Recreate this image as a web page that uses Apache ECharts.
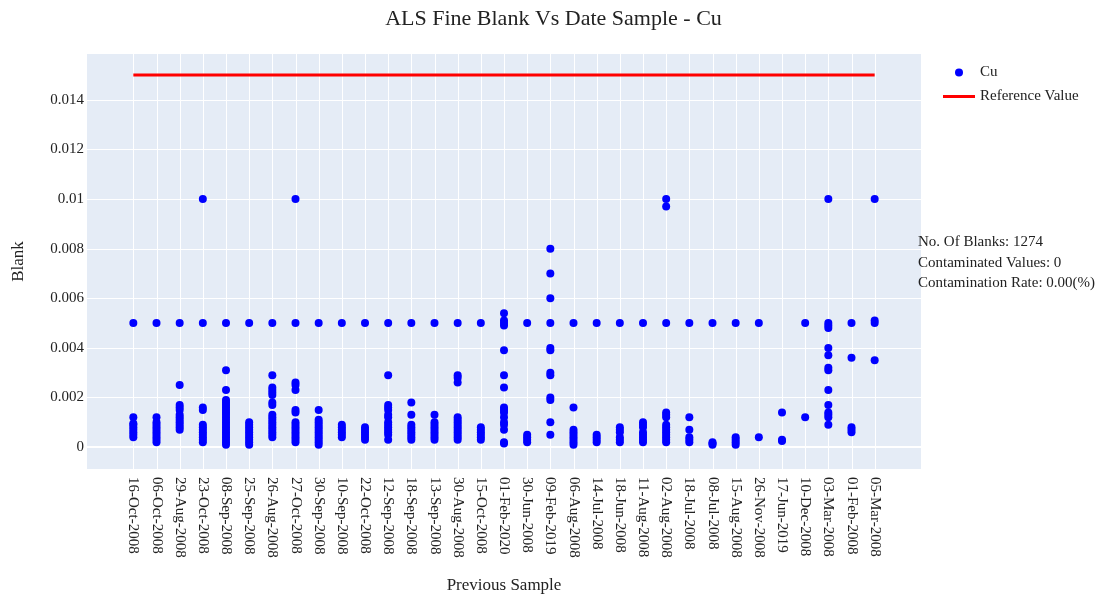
<!DOCTYPE html>
<html>
<head>
<meta charset="utf-8">
<script src="https://cdn.jsdelivr.net/npm/echarts@6/dist/echarts.min.js"></script>
<style>
  html, body { margin: 0; padding: 0; background: #ffffff; }
  #chart { width: 1107px; height: 599px; }
</style>
</head>
<body>
<div id="chart"></div>
<script>
// Previous-sample dates (x categories)
const sampleDates = [
  '16-Oct-2008', '06-Oct-2008', '29-Aug-2008', '23-Oct-2008', '08-Sep-2008',
  '25-Sep-2008', '26-Aug-2008', '27-Oct-2008', '30-Sep-2008', '10-Sep-2008',
  '22-Oct-2008', '12-Sep-2008', '18-Sep-2008', '13-Sep-2008', '30-Aug-2008',
  '15-Oct-2008', '01-Feb-2020', '30-Jun-2008', '09-Feb-2019', '06-Aug-2008',
  '14-Jul-2008', '18-Jun-2008', '11-Aug-2008', '02-Aug-2008', '18-Jul-2008',
  '08-Jul-2008', '15-Aug-2008', '26-Nov-2008', '17-Jun-2019', '10-Dec-2008',
  '03-Mar-2008', '01-Feb-2008', '05-Mar-2008'
];

// Cu fine blank results grouped by previous-sample date (same order as sampleDates)
const cuBlanks = [
  [0.005, 0.0012, 0.00095, 0.0009, 0.0008, 0.0007, 0.0006, 0.0005, 0.0004],
  [0.005, 0.0012, 0.001, 0.0009, 0.0008, 0.0007, 0.0006, 0.0005, 0.0004, 0.0003, 0.0002],
  [0.005, 0.0025, 0.0017, 0.0016, 0.0015, 0.0013, 0.0012, 0.0011, 0.001, 0.0009, 0.0008, 0.0007],
  [0.01, 0.005, 0.0016, 0.0015, 0.0009, 0.0008, 0.0007, 0.0006, 0.0005, 0.0004, 0.0003, 0.0002],
  [0.005, 0.0031, 0.0023, 0.0019, 0.0018, 0.0017, 0.0016, 0.0015, 0.0014, 0.0013, 0.0012, 0.0011,
   0.001, 0.0009, 0.0008, 0.0007, 0.0006, 0.0005, 0.0004, 0.0003, 0.0002, 0.0001],
  [0.005, 0.001, 0.0009, 0.0008, 0.0007, 0.0006, 0.0005, 0.0004, 0.0003, 0.0002, 0.0001],
  [0.005, 0.0029, 0.0024, 0.0023, 0.0022, 0.0021, 0.0018, 0.0017, 0.0013, 0.0012, 0.0011, 0.001,
   0.0009, 0.0008, 0.0007, 0.0006, 0.0005, 0.0004],
  [0.01, 0.005, 0.0026, 0.0025, 0.0023, 0.0015, 0.0014, 0.001, 0.0009, 0.0008, 0.0007, 0.0006,
   0.0005, 0.0004, 0.0003, 0.0002],
  [0.005, 0.0015, 0.0011, 0.001, 0.0009, 0.0008, 0.0007, 0.0006, 0.0005, 0.0004, 0.0003, 0.0002, 0.0001],
  [0.005, 0.0009, 0.0008, 0.0007, 0.0006, 0.0005, 0.0004],
  [0.005, 0.0008, 0.0007, 0.0006, 0.0005, 0.0004, 0.0003],
  [0.005, 0.0029, 0.0017, 0.0016, 0.0015, 0.0013, 0.0012, 0.001, 0.0009, 0.0008, 0.0007, 0.0006, 0.0005, 0.0003],
  [0.005, 0.0018, 0.0013, 0.0009, 0.0008, 0.0007, 0.0006, 0.0005, 0.0004, 0.0003],
  [0.005, 0.0013, 0.001, 0.0009, 0.0008, 0.0007, 0.0006, 0.0005, 0.0004, 0.0003],
  [0.005, 0.0029, 0.0028, 0.0026, 0.0012, 0.0011, 0.001, 0.0009, 0.0008, 0.0007, 0.0006, 0.0005, 0.0004, 0.0003],
  [0.005, 0.0008, 0.0007, 0.0006, 0.0005, 0.0004, 0.0003],
  [0.0054, 0.0051, 0.005, 0.0049, 0.0039, 0.0029, 0.0024, 0.0016, 0.0015, 0.0014, 0.0012, 0.001,
   0.0009, 0.0007, 0.0002, 0.00015],
  [0.005, 0.0005, 0.0004, 0.0003, 0.0002],
  [0.008, 0.007, 0.006, 0.005, 0.004, 0.0039, 0.003, 0.0029, 0.002, 0.0019, 0.001, 0.0005],
  [0.005, 0.0016, 0.0007, 0.0006, 0.0005, 0.0004, 0.0003, 0.0002, 0.0001],
  [0.005, 0.0005, 0.0004, 0.0003, 0.0002],
  [0.005, 0.0008, 0.0007, 0.0006, 0.0004, 0.0003, 0.0002],
  [0.005, 0.001, 0.0009, 0.0008, 0.0006, 0.0005, 0.0004, 0.0003, 0.0002],
  [0.01, 0.0097, 0.005, 0.0014, 0.0013, 0.0012, 0.0009, 0.0008, 0.0007, 0.0006, 0.0005, 0.0004, 0.0003, 0.0002],
  [0.005, 0.0012, 0.0007, 0.0004, 0.0003, 0.0002],
  [0.005, 0.0002, 0.00015, 0.0001],
  [0.005, 0.0004, 0.0003, 0.0002, 0.0001],
  [0.005, 0.0004],
  [0.0014, 0.0003, 0.00025],
  [0.005, 0.0012],
  [0.01, 0.005, 0.0049, 0.0048, 0.004, 0.0037, 0.0032, 0.0031, 0.0023, 0.0017, 0.0014, 0.0013, 0.0012, 0.0009],
  [0.005, 0.0036, 0.0008, 0.0007, 0.0006],
  [0.01, 0.0051, 0.005, 0.0035]
];

// Cu reference (contamination) value
const referenceValue = 0.015;

// Y tick values
const yTicks = [0, 0.002, 0.004, 0.006, 0.008, 0.01, 0.012, 0.014];

// Summary lines shown at the right of the plot
const summaryLines = [
  'No. Of Blanks: 1274',
  'Contaminated Values: 0',
  'Contamination Rate: 0.00(%)'
];

const FONT = "'Liberation Serif', 'Times New Roman', serif";
const TEXT = '#222222';

const scatterData = [];
cuBlanks.forEach((vals, i) => vals.forEach(v => scatterData.push([i, v])));

const lastIdx = sampleDates.length - 1;
const refData = [[0, referenceValue], [lastIdx, referenceValue]];

// Horizontal grid lines with their tick labels, placed through the axis scales
const hGridData = yTicks.map(t => [0, t]);
// Vertical grid lines, one per date category
const vGridData = sampleDates.map((d, i) => [i, 0]);

function renderHGrid(params, api) {
  const cs = params.coordSys;
  const t = api.value(1);
  const y = Math.round(api.coord([0, t])[1]) + (t === 0 ? 0 : 0.5);
  return {
    type: 'group',
    children: [
      {
        type: 'line',
        shape: { x1: cs.x, y1: y, x2: cs.x + cs.width, y2: y },
        style: { stroke: '#ffffff', lineWidth: t === 0 ? 2 : 1 }
      },
      {
        type: 'text',
        x: cs.x - 3,
        y: y,
        style: {
          text: String(+t.toFixed(3)),
          align: 'right',
          verticalAlign: 'middle',
          font: '15px ' + FONT,
          fill: TEXT
        }
      }
    ]
  };
}

function renderVGrid(params, api) {
  const cs = params.coordSys;
  const x = Math.round(api.coord([api.value(0), 0])[0]) + 0.5;
  return {
    type: 'line',
    shape: { x1: x, y1: cs.y, x2: x, y2: cs.y + cs.height },
    style: { stroke: '#ffffff', lineWidth: 1 }
  };
}

const chart = echarts.init(document.getElementById('chart'), null, { renderer: 'canvas' });

chart.setOption({
  animation: false,
  backgroundColor: '#ffffff',
  textStyle: { fontFamily: FONT, color: TEXT },
  title: {
    text: 'ALS Fine Blank Vs Date Sample - Cu',
    left: 'center',
    top: 3,
    textStyle: { fontFamily: FONT, fontSize: 22, fontWeight: 'normal', color: TEXT }
  },
  legend: {
    orient: 'vertical',
    left: 943,
    top: 65,
    padding: 0,
    itemWidth: 32,
    itemHeight: 8,
    itemGap: 9,
    textStyle: { fontFamily: FONT, fontSize: 15, color: TEXT },
    data: [
      { name: 'Cu', icon: 'circle' },
      { name: 'Reference Value', icon: 'path://M0,0 L32,0 L32,3 L0,3 Z' }
    ]
  },
  grid: {
    left: 87,
    right: 186,
    top: 54,
    bottom: 128,
    show: true,
    backgroundColor: '#E5ECF6',
    borderWidth: 0
  },
  xAxis: {
    type: 'value',
    min: -2,
    max: 34,
    interval: 1,
    name: 'Previous Sample',
    nameLocation: 'middle',
    nameGap: 108,
    nameTextStyle: { fontFamily: FONT, fontSize: 17, color: TEXT },
    axisLine: { show: false },
    axisTick: { show: false },
    splitLine: { show: false },
    axisLabel: {
      rotate: -90,
      margin: 8,
      fontFamily: FONT,
      fontSize: 15,
      color: TEXT,
      formatter: v => (Number.isInteger(v) && v >= 0 && v <= lastIdx) ? sampleDates[v] : ''
    }
  },
  yAxis: {
    type: 'value',
    min: -0.000882,
    max: 0.015845,
    name: 'Blank',
    nameLocation: 'middle',
    nameGap: 60,
    nameTextStyle: { fontFamily: FONT, fontSize: 17, color: TEXT },
    axisLine: { show: false },
    axisTick: { show: false },
    axisLabel: { show: false },
    splitLine: { show: false }
  },
  graphic: [{
    type: 'text',
    left: 918,
    top: 232,
    style: {
      text: summaryLines.join('\n'),
      font: '15px ' + FONT,
      fill: TEXT,
      lineHeight: 20.5
    }
  }],
  series: [
    {
      name: 'hgrid',
      type: 'custom',
      data: hGridData,
      renderItem: renderHGrid,
      silent: true,
      clip: false,
      z: 1
    },
    {
      name: 'vgrid',
      type: 'custom',
      data: vGridData,
      renderItem: renderVGrid,
      silent: true,
      clip: false,
      z: 1
    },
    {
      name: 'Cu',
      type: 'scatter',
      data: scatterData,
      symbol: 'circle',
      symbolSize: 8,
      itemStyle: { color: '#0000ff', opacity: 1 },
      z: 3
    },
    {
      name: 'Reference Value',
      type: 'line',
      data: refData,
      showSymbol: false,
      symbol: 'none',
      lineStyle: { color: '#ff0000', width: 3 },
      itemStyle: { color: '#ff0000' },
      z: 4
    }
  ]
});
</script>
</body>
</html>
